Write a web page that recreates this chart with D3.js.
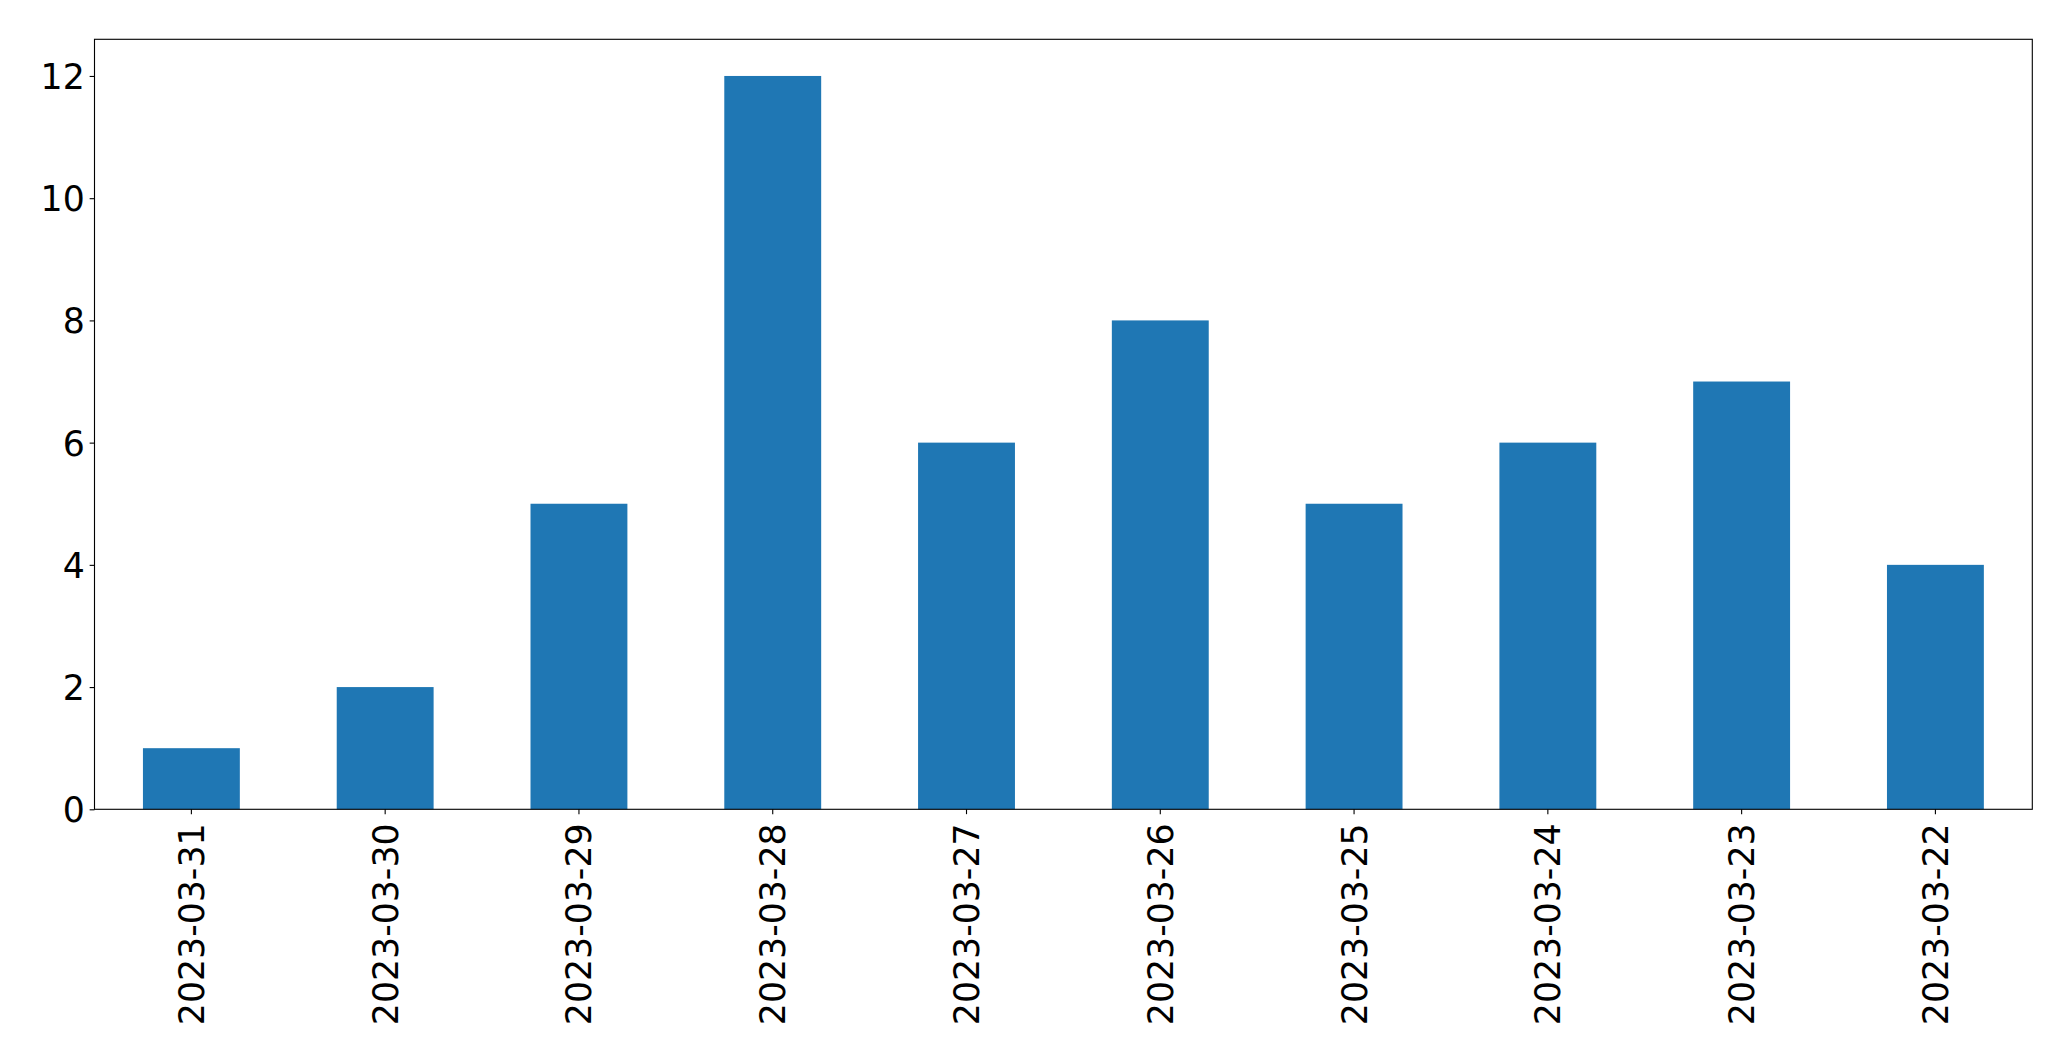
<!DOCTYPE html>
<html>
<head>
<meta charset="utf-8">
<script src="https://cdn.jsdelivr.net/npm/d3@7"></script>
<style>
  html, body { margin: 0; padding: 0; background: #fff; }
  svg { display: block; }
  text { font-family: "DejaVu Sans", sans-serif; fill: #000; }
</style>
</head>
<body>
<script>
const categories = ["2023-03-31", "2023-03-30", "2023-03-29", "2023-03-28", "2023-03-27",
                    "2023-03-26", "2023-03-25", "2023-03-24", "2023-03-23", "2023-03-22"];
const values = [1, 2, 5, 12, 6, 8, 5, 6, 7, 4];
const yTicks = [0, 2, 4, 6, 8, 10, 12];

(function () {
const W = 2071, H = 1061;
const mLeft = 94.5, mRight = 2032.3, mTop = 39.3, mBottom = 809.3;
const fontSize = 34.72;
const tickLen = 4.86, pad = 4.86, lw = 1.11;

const svg = d3.select("body").append("svg").attr("width", W).attr("height", H);

const x = d3.scaleBand().domain(categories).range([mLeft, mRight]).paddingInner(0.5).paddingOuter(0.25);
const y = d3.scaleLinear().domain([0, 12.6]).range([mBottom, mTop]);

svg.append("g").selectAll("rect").data(values).join("rect")
  .attr("x", (d, i) => x(categories[i]))
  .attr("width", x.bandwidth())
  .attr("y", d => y(d))
  .attr("height", d => y(0) - y(d))
  .attr("fill", "#1f77b4");

// Frame
svg.append("rect").attr("x", mLeft).attr("y", mTop).attr("width", mRight - mLeft).attr("height", mBottom - mTop)
  .attr("fill", "none").attr("stroke", "#000").attr("stroke-width", lw);

// Y axis
const yAxis = d3.axisLeft(y).tickValues(yTicks).tickSize(tickLen).tickPadding(pad).tickFormat(d3.format("d"));
const gy = svg.append("g").attr("transform", `translate(${mLeft},0)`).call(yAxis);
gy.select(".domain").remove();
gy.selectAll(".tick line").attr("stroke", "#000").attr("stroke-width", lw);
gy.selectAll(".tick text").attr("font-size", fontSize).attr("dy", "0.36em")
  .style("font-family", '"DejaVu Sans", sans-serif');

// X axis
const xAxis = d3.axisBottom(x).tickSize(tickLen).tickPadding(pad);
const gx = svg.append("g").attr("transform", `translate(0,${mBottom})`).call(xAxis);
gx.select(".domain").remove();
gx.selectAll(".tick line").attr("stroke", "#000").attr("stroke-width", lw);
gx.selectAll(".tick text")
  .attr("font-size", fontSize)
  .attr("text-anchor", "end")
  .attr("x", 0).attr("y", 0)
  .attr("dy", "0.36em")
  .attr("transform", `translate(0,${tickLen + pad + 4.4}) rotate(-90)`)
  .style("font-family", '"DejaVu Sans", sans-serif');
})();
</script>
</body>
</html>
